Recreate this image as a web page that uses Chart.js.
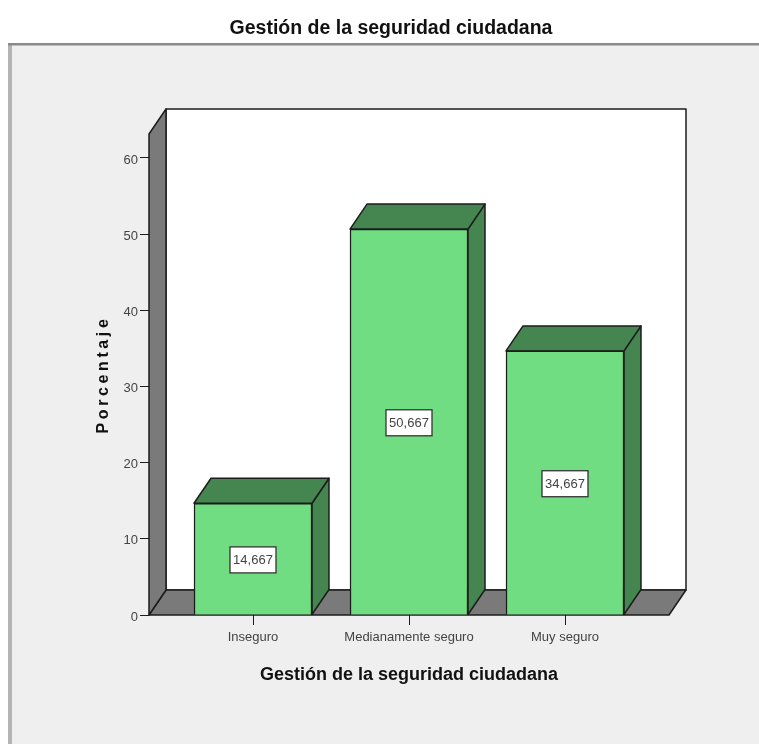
<!DOCTYPE html>
<html>
<head>
<meta charset="utf-8">
<script src="https://cdn.jsdelivr.net/npm/chart.js@4"></script>
<style>
html, body { margin: 0; padding: 0; background: #fff; }
canvas { display: block; filter: blur(0.5px); }
</style>
</head>
<body>
<canvas id="chart" width="759" height="744"></canvas>
<script>
var categories = ['Inseguro', 'Medianamente seguro', 'Muy seguro'];
var values = [14.667, 50.667, 34.667];
var yTicks = [0, 10, 20, 30, 40, 50, 60];
var chartTitle = 'Gestión de la seguridad ciudadana';
var xTitle = 'Gestión de la seguridad ciudadana';
var yTitle = 'Porcentaje';

var colors = {
    front: '#70dd82',
    dark: '#458650',
    wall: '#7a7a7a',
    line: '#1c1c1c',
    panel: '#efefef',
    panelEdge: '#b4b4b4',
    panelTop: '#8a8a8a'
};
var depthX = 17;
var depthY = 25;
var fontName = '"Liberation Sans", Arial, sans-serif';

function poly(ctx, points, fill) {
    ctx.beginPath();
    ctx.moveTo(points[0][0], points[0][1]);
    for (var i = 1; i < points.length; i++) {
        ctx.lineTo(points[i][0], points[i][1]);
    }
    ctx.closePath();
    ctx.fillStyle = fill;
    ctx.fill();
    ctx.strokeStyle = colors.line;
    ctx.lineWidth = 1.5;
    ctx.lineJoin = 'round';
    ctx.stroke();
}

var panelPlugin = {
    id: 'panel',
    beforeDraw: function (chart) {
        var ctx = chart.ctx;
        ctx.save();
        ctx.fillStyle = colors.panel;
        ctx.fillRect(9, 43, 750, 701);
        ctx.fillStyle = colors.panelEdge;
        ctx.fillRect(8, 43, 4, 701);
        ctx.fillStyle = colors.panelTop;
        ctx.fillRect(8, 43, 751, 2.5);
        ctx.restore();
    }
};

// back wall, floor, left wall and the top and side of each bar
var boxPlugin = {
    id: 'box',
    beforeDatasetsDraw: function (chart) {
        var ctx = chart.ctx;
        var a = chart.chartArea;
        ctx.save();
        poly(ctx, [[a.left + depthX, a.top - depthY], [a.right + depthX, a.top - depthY],
                   [a.right + depthX, a.bottom - depthY], [a.left + depthX, a.bottom - depthY]], '#ffffff');
        poly(ctx, [[a.left, a.bottom], [a.right, a.bottom],
                   [a.right + depthX, a.bottom - depthY], [a.left + depthX, a.bottom - depthY]], colors.wall);
        poly(ctx, [[a.left, a.top], [a.left + depthX, a.top - depthY],
                   [a.left + depthX, a.bottom - depthY], [a.left, a.bottom]], colors.wall);
        chart.getDatasetMeta(0).data.forEach(function (bar) {
            var l = bar.x - bar.width / 2;
            var r = bar.x + bar.width / 2;
            poly(ctx, [[r, bar.y], [r + depthX, bar.y - depthY],
                       [r + depthX, bar.base - depthY], [r, bar.base]], colors.dark);
            poly(ctx, [[l, bar.y], [l + depthX, bar.y - depthY],
                       [r + depthX, bar.y - depthY], [r, bar.y]], colors.dark);
        });
        ctx.restore();
    },
    afterDatasetsDraw: function (chart) {
        var ctx = chart.ctx;
        var a = chart.chartArea;
        ctx.save();
        ctx.font = '13px ' + fontName;
        ctx.textAlign = 'center';
        ctx.textBaseline = 'middle';
        chart.getDatasetMeta(0).data.forEach(function (bar, i) {
            var midY = (bar.y + bar.base) / 2 + 1;
            ctx.fillStyle = '#ffffff';
            ctx.fillRect(bar.x - 23, midY - 13, 46, 26);
            ctx.strokeStyle = '#333333';
            ctx.lineWidth = 1.3;
            ctx.strokeRect(bar.x - 23, midY - 13, 46, 26);
            ctx.fillStyle = '#444444';
            ctx.fillText(values[i].toFixed(3).replace('.', ','), bar.x, midY + 1);
        });
        // y title is drawn here because it needs the wide letter spacing
        ctx.translate(104, (a.top + a.bottom) / 2);
        ctx.rotate(-Math.PI / 2);
        ctx.font = 'bold 16px ' + fontName;
        ctx.letterSpacing = '3.6px';
        ctx.fillStyle = '#111111';
        ctx.fillText(yTitle, 0, 0);
        ctx.restore();
    }
};

new Chart(document.getElementById('chart'), {
    type: 'bar',
    data: {
        datasets: [{
            data: values.map(function (v, i) { return { x: i, y: v }; }),
            backgroundColor: colors.front,
            borderColor: colors.line,
            borderWidth: 1.5,
            barThickness: 118
        }]
    },
    options: {
        responsive: false,
        animation: false,
        layout: { padding: { left: 113, right: 90, top: 0, bottom: 0 } },
        plugins: {
            legend: { display: false },
            tooltip: { enabled: false },
            title: {
                display: true,
                text: chartTitle,
                color: '#111111',
                font: { family: fontName, size: 19.5, weight: 'bold', lineHeight: 1.2 },
                padding: { top: 16.5, bottom: 94.1 }
            }
        },
        scales: {
            x: {
                type: 'linear',
                offset: false,
                min: -2 / 3,
                max: 8 / 3,
                afterBuildTicks: function (scale) {
                    scale.ticks = categories.map(function (c, i) { return { value: i }; });
                },
                afterFit: function (scale) { scale.height = 129; },
                grid: { display: true, offset: false, drawOnChartArea: false, color: colors.line, tickLength: 10 },
                border: { display: false },
                ticks: {
                    autoSkip: false,
                    maxRotation: 0,
                    color: '#444444',
                    font: { family: fontName, size: 13 },
                    padding: 5,
                    callback: function (value) { return categories[value]; }
                },
                title: {
                    display: true,
                    text: xTitle,
                    color: '#111111',
                    font: { family: fontName, size: 18, weight: 'bold', lineHeight: 1.2 },
                    padding: { top: 0, bottom: 58 }
                }
            },
            y: {
                min: 0,
                max: 63.15,
                afterBuildTicks: function (scale) {
                    scale.ticks = yTicks.map(function (t) { return { value: t }; });
                },
                afterFit: function (scale) { scale.width = 36; },
                grid: { display: true, drawOnChartArea: false, color: colors.line, tickLength: 9 },
                border: { display: false },
                ticks: {
                    color: '#444444',
                    font: { family: fontName, size: 13 },
                    padding: 2,
                    labelOffset: 2
                }
            }
        }
    },
    plugins: [panelPlugin, boxPlugin]
});
</script>
</body>
</html>
